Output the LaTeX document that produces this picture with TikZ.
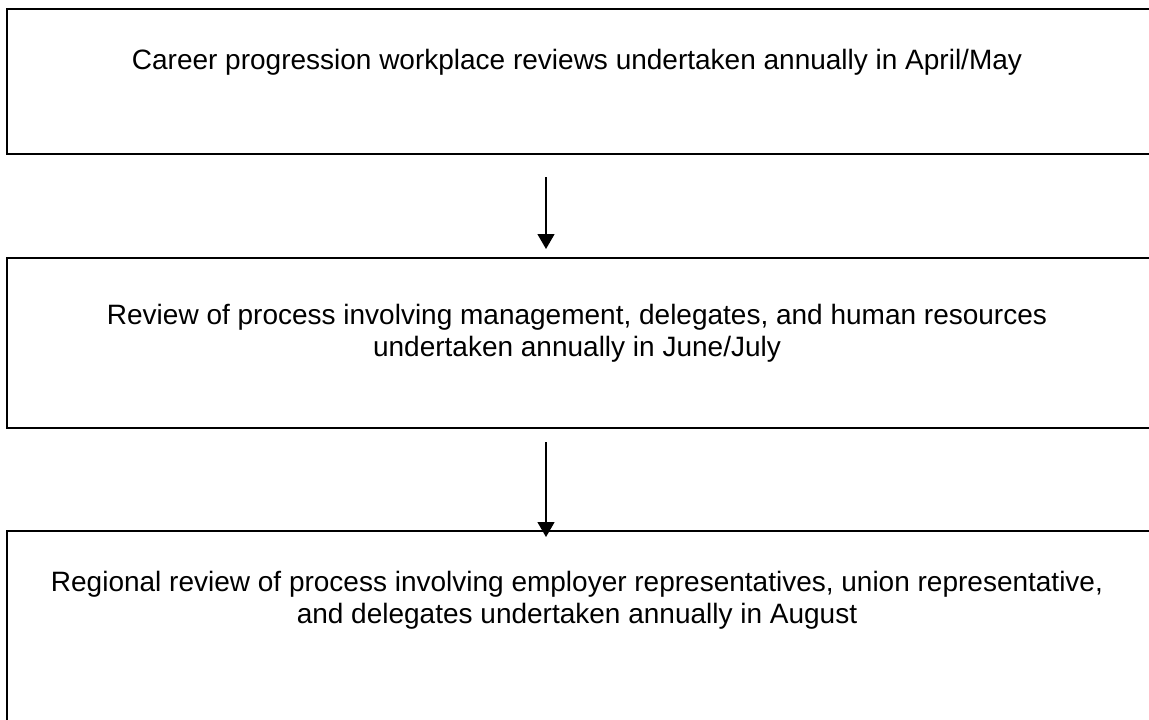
\documentclass[tikz,border=0pt]{standalone}
\usepackage{fontspec}
\setmainfont{Liberation Sans}
\usetikzlibrary{arrows.meta,fit}

\tikzset{every picture/.style={line width=0.75pt}}
\tikzset{
  stagebox/.style={draw, line width=1.5pt, inner sep=0pt},
  stagetext/.style={align=center, inner sep=0pt, font=\fontsize{21}{24}\selectfont},
  flow/.style={line width=1pt, -{Triangle[width=12.75pt,length=11.25pt]}}
}

\begin{document}
\begin{tikzpicture}[x=0.75pt,y=0.75pt,yscale=-1]
	\useasboundingbox (0,0) rectangle (1149,719);

	%Boxes
	\node[stagebox, fit={(7,9) (1152,154)}] (stage1) {};
	\node[stagebox, fit={(7,258) (1152,428)}] (stage2) {};
	\node[stagebox, fit={(7,531) (1152,740)}] (stage3) {};

	% Text Node
	\node[stagetext] (label1) at (577,62) {Career progression workplace reviews undertaken annually in April/May};
	% Text Node
	\node[stagetext] (label2) at (577,333) {Review of process involving management, delegates, and human resources\\undertaken annually in June/July};
	% Text Node
	\node[stagetext] (label3) at (577,600) {Regional review of process involving employer representatives, union representative,\\and delegates undertaken annually in August};

	%Arrows
	\coordinate (a1s) at (546,177);
	\coordinate (a1e) at (546,249);
	\coordinate (a2s) at (546,442);
	\coordinate (a2e) at (546,537);
	\draw[flow] (a1s) -- (a1e);
	\draw[flow] (a2s) -- (a2e);
\end{tikzpicture}
\end{document}
